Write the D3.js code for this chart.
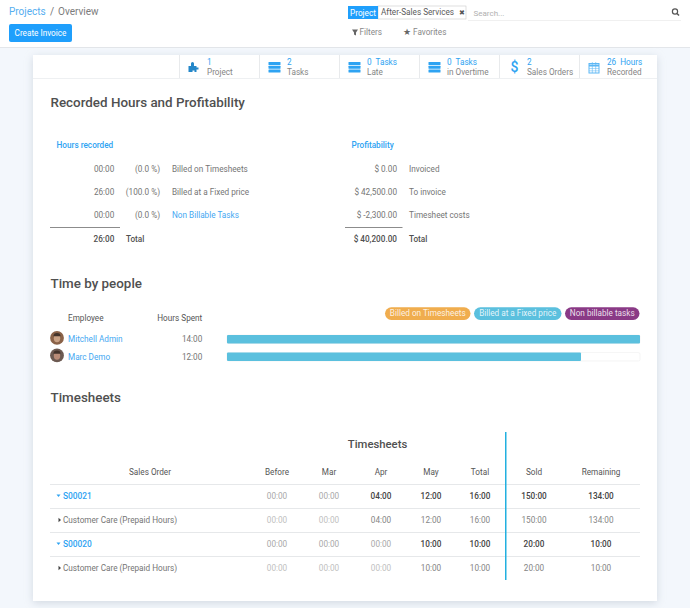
<!DOCTYPE html>
<html>
<head>
<meta charset="utf-8">
<script src="https://cdnjs.cloudflare.com/ajax/libs/d3/7.8.5/d3.min.js"></script>
<style>
html, body { margin: 0; padding: 0; background: #f3f7fc; }
svg { display: block; }
text { font-family: Roboto, "Open Sans", sans-serif; }
</style>
</head>
<body>
<svg id="page" width="690" height="608"></svg>
<script>
'use strict';

var stats = ["1", "2", "0  Tasks", "0  Tasks", "2", "26  Hours"];
var statLabels = ["Project", "Tasks", "Late", "in Overtime", "Sales Orders", "Recorded"];
var statIcons = ["puzzle", "tasks", "tasks", "tasks", "dollar", "calendar"];

var hourValues = ["00:00", "26:00", "00:00"];
var hourShares = ["(0.0 %)", "(100.0 %)", "(0.0 %)"];
var hourLabels = ["Billed on Timesheets", "Billed at a Fixed price", "Non Billable Tasks"];
var profitValues = ["$ 0.00", "$ 42,500.00", "$ -2,300.00"];
var profitLabels = ["Invoiced", "To invoice", "Timesheet costs"];

var employees = ["Mitchell Admin", "Marc Demo"];
var employeeHours = [14, 12];
var employeeHourLabels = ["14:00", "12:00"];
var legendLabels = ["Billed on Timesheets", "Billed at a Fixed price", "Non billable tasks"];
var legendColors = ["#f0ad4e", "#5bc0de", "#8a3a86"];

var columns = ["Before", "Mar", "Apr", "May", "Total", "Sold", "Remaining"];
var orders = ["S00021", "Customer Care (Prepaid Hours)", "S00020", "Customer Care (Prepaid Hours)"];
var orderHours = [
    ["00:00", "00:00", "04:00", "12:00", "16:00", "150:00", "134:00"],
    ["00:00", "00:00", "04:00", "12:00", "16:00", "150:00", "134:00"],
    ["00:00", "00:00", "00:00", "10:00", "10:00", "20:00", "10:00"],
    ["00:00", "00:00", "00:00", "10:00", "10:00", "20:00", "10:00"]
];

var BLUE = "#2ea3f2", DARK = "#505050", GREY = "#757575", FAINT = "#b4b4b4", LINE = "#e6e8ea";

var svg = d3.select("#page");

var label = function (parent, x, y, str, opts) {
    opts = opts || {};
    return parent.append("text")
        .attr("x", x)
        .attr("y", y)
        .attr("dy", "0.35em")
        .attr("text-anchor", opts.anchor || "start")
        .attr("font-size", opts.size || 8.2)
        .attr("font-weight", opts.weight || 400)
        .attr("fill", opts.color || GREY)
        .attr("xml:space", "preserve")
        .text(str);
};

var rule = function (x1, y1, x2, y2, color, width) {
    svg.append("line")
        .attr("x1", x1).attr("y1", y1).attr("x2", x2).attr("y2", y2)
        .attr("stroke", color).attr("stroke-width", width || 1);
};

// Control panel
svg.append("rect").attr("width", 690).attr("height", 47).attr("fill", "#fff");
rule(0, 47.5, 690, 47.5, "#e3e6ea");
label(svg, 9, 11.5, "Projects", {size: 10, color: "#55aef0"});
label(svg, 50, 11.5, "/", {size: 10, color: GREY});
label(svg, 58, 11.5, "Overview", {size: 10, color: "#7c7c7c"});
svg.append("rect").attr("x", 9).attr("y", 24).attr("width", 63).attr("height", 18).attr("rx", 2).attr("fill", "#1f9ffc");
label(svg, 40.5, 33, "Create Invoice", {size: 8.2, color: "#fff", anchor: "middle"});

svg.append("rect").attr("x", 378).attr("y", 6).attr("width", 88).attr("height", 13).attr("fill", "#fff").attr("stroke", "#c9c9c9").attr("stroke-width", 0.6);
svg.append("rect").attr("x", 348).attr("y", 6).attr("width", 30).attr("height", 13).attr("fill", "#1f9ffc");
label(svg, 363, 12.7, "Project", {size: 8.2, color: "#fff", anchor: "middle"});
label(svg, 381, 12.3, "After-Sales Services", {size: 8.2, color: "#5a5a5a"});
label(svg, 458.5, 12.7, "\u2716", {size: 7, color: "#555"});
label(svg, 473.5, 13, "Search...", {size: 8, color: "#b0b0b0"});
rule(468, 20.5, 681, 20.5, "#f0f0f0");
svg.append("circle").attr("cx", 675).attr("cy", 11.5).attr("r", 2.6).attr("fill", "none").attr("stroke", "#555").attr("stroke-width", 1.2);
rule(677, 13.5, 679, 15.5, "#555", 1.4);
svg.append("path").attr("d", d3.line()([[352, 29.5], [358, 29.5], [356, 32.5], [356, 35.5], [354, 34.5], [354, 32.5]])).attr("fill", "#666");
label(svg, 359.5, 32.5, "Filters", {size: 8.2, color: "#888"});
label(svg, 403, 32.5, "\u2605", {size: 8.5, color: "#666"});
label(svg, 413, 32.5, "Favorites", {size: 8.2, color: "#888"});

// Card
svg.append("defs").append("filter").attr("id", "shadow")
    .attr("x", "-5%").attr("y", "-5%").attr("width", "110%").attr("height", "110%")
    .append("feDropShadow").attr("dx", 0).attr("dy", 2).attr("stdDeviation", 4).attr("flood-color", "#a9b4c0").attr("flood-opacity", 0.45);
svg.append("rect").attr("x", 33).attr("y", 55).attr("width", 624).attr("height", 546).attr("fill", "#fff").attr("filter", "url(#shadow)");

// Stat buttons
var statX = d3.scaleBand().domain(d3.range(stats.length)).range([179.5, 659.5]);
rule(33, 78.5, 657, 78.5, "#eef0f2");
stats.forEach(function (s, i) {
    var x = statX(i), g = svg.append("g").attr("transform", "translate(" + x + ",0)");
    rule(x, 55, x, 78, "#e8eaec");
    label(g, 27.5, 62, s, {size: 8.2, color: BLUE});
    label(g, 27.5, 72, statLabels[i], {size: 8.2, color: "#858585"});
    if (statIcons[i] === "tasks") {
        [62, 65.8, 69.6].forEach(function (y) {
            g.append("rect").attr("x", 9).attr("y", y).attr("width", 12).attr("height", 2.9).attr("rx", 0.5).attr("fill", BLUE);
        });
    } else if (statIcons[i] === "puzzle") {
        g.append("path").attr("d", "M9 72v-6h2.5v-2.5a1.5 1.5 0 0 1 3 0V66h2.5v1.5h2v2h-2V72h-2v-1.5h-2V72z").attr("fill", "#2487c9");
    } else if (statIcons[i] === "dollar") {
        label(g, 15, 67, "$", {size: 14, color: BLUE, weight: 500, anchor: "middle"});
    } else {
        g.append("rect").attr("x", 9.5).attr("y", 63.5).attr("width", 10).attr("height", 9.5).attr("fill", "none").attr("stroke", "#5cb7f5");
        rule(x + 9.5, 65.5, x + 19.5, 65.5, "#5cb7f5", 2);
        [12.8, 16.2].forEach(function (v) { rule(x + v, 62, x + v, 73, "#5cb7f5", 0.6); });
        [68.5, 70.8].forEach(function (h) { rule(x + 9.5, h, x + 19.5, h, "#5cb7f5", 0.5); });
    }
});

// Section titles
label(svg, 50.5, 102, "Recorded Hours and Profitability", {size: 13.4, weight: 500, color: DARK});
label(svg, 50.5, 283.5, "Time by people", {size: 13.4, weight: 500, color: DARK});
label(svg, 50.5, 397, "Timesheets", {size: 13.4, weight: 500, color: DARK});

// Summary tables
var summaryY = d3.scalePoint().domain(d3.range(3)).range([169, 215.5]);
label(svg, 56.5, 145.3, "Hours recorded", {size: 8.2, weight: 500, color: BLUE});
label(svg, 351.5, 145.3, "Profitability", {size: 8.2, weight: 500, color: BLUE});
hourValues.forEach(function (v, i) {
    var y = summaryY(i);
    label(svg, 114.3, y, v, {anchor: "end"});
    label(svg, 160, y, hourShares[i], {anchor: "end"});
    label(svg, 172, y, hourLabels[i], {color: i === 2 ? "#45a8f2" : GREY});
    label(svg, 397, y, profitValues[i], {anchor: "end"});
    label(svg, 409, y, profitLabels[i]);
});
rule(50, 227.5, 120, 227.5, "#8c8c8c");
rule(345, 227.5, 402.5, 227.5, "#8c8c8c");
label(svg, 114.3, 239, "26:00", {anchor: "end", weight: 500, color: DARK});
label(svg, 126, 239, "Total", {weight: 500, color: DARK});
label(svg, 397, 239, "$ 40,200.00", {anchor: "end", weight: 500, color: DARK});
label(svg, 409, 239, "Total", {weight: 500, color: DARK});

// Time by people
var barX = d3.scaleLinear().domain([0, d3.max(employeeHours)]).range([227, 640]);
var barY = d3.scaleBand().domain(employees).range([330.5, 365.5]).paddingInner(0.52).paddingOuter(0.26);
label(svg, 68, 318, "Employee", {color: "#555"});
label(svg, 202.3, 318, "Hours Spent", {anchor: "end", color: "#555"});

var pillBounds = [[385, 470.5], [474, 561.5], [565, 639.5]];
legendLabels.forEach(function (t, i) {
    var b = pillBounds[i];
    svg.append("rect").attr("x", b[0]).attr("y", 307.3).attr("width", b[1] - b[0]).attr("height", 12.6).attr("rx", 6.3).attr("fill", legendColors[i]);
    label(svg, (b[0] + b[1]) / 2, 313.5, t, {size: 8.2, color: "#fff", anchor: "middle"}).attr("fill-opacity", 0.85);
});

svg.selectAll("rect.track").data(employees).enter().append("rect")
    .attr("class", "track")
    .attr("x", barX(0)).attr("y", function (d) { return barY(d); })
    .attr("width", barX.range()[1] - barX(0)).attr("height", barY.bandwidth())
    .attr("rx", 1.5).attr("fill", "#fff").attr("stroke", "#eeeeee").attr("stroke-width", 0.6);
svg.selectAll("rect.bar").data(employees).enter().append("rect")
    .attr("class", "bar")
    .attr("x", barX(0)).attr("y", function (d) { return barY(d); })
    .attr("width", function (d, i) { return barX(employeeHours[i]) - barX(0); })
    .attr("height", barY.bandwidth())
    .attr("rx", 1).attr("fill", "#5bc0de");

employees.forEach(function (name, i) {
    var y = barY(name) + barY.bandwidth() / 2;
    var av = svg.append("g").attr("transform", "translate(57," + (y - 1.3) + ")");
    av.append("circle").attr("r", 6.9).attr("fill", i === 0 ? "#8a6248" : "#6c5a52");
    av.append("ellipse").attr("cy", 0.4).attr("rx", 3.2).attr("ry", 4).attr("fill", i === 0 ? "#c9a184" : "#b98c78");
    av.append("path").attr("d", "M-3.6 -1.6a3.6 3.4 0 0 1 7.2 0z").attr("fill", "#43332b");
    label(svg, 68, y, name, {color: "#45a8f2"});
    label(svg, 202.3, y, employeeHourLabels[i], {anchor: "end"});
});

// Timesheet table
var colX = d3.scaleOrdinal().domain(columns).range([277, 329, 381, 431, 480, 534, 601]);
var rowY = d3.scalePoint().domain(d3.range(orders.length)).range([496, 568]);
label(svg, 377.5, 444, "Timesheets", {size: 11.3, weight: 500, color: DARK, anchor: "middle"});
label(svg, 150, 472.3, "Sales Order", {color: "#555", anchor: "middle"});
columns.forEach(function (c) {
    label(svg, colX(c), 472.3, c, {color: "#555", anchor: "middle"});
});
rule(50, 484.5, 640, 484.5, LINE);
orders.forEach(function (o, i) {
    var y = rowY(i), isOrder = i % 2 === 0;
    if (i < orders.length - 1) rule(50, y + 12.5, 640, y + 12.5, LINE);
    if (isOrder) {
        svg.append("path").attr("d", d3.line()([[56.5, y - 1.5], [60.5, y - 1.5], [58.5, y + 1]])).attr("fill", BLUE);
        label(svg, 63, y, o, {color: BLUE, weight: 500, size: 8.4});
    } else {
        svg.append("path").attr("d", d3.line()([[58.5, y - 2.3], [61, y], [58.5, y + 2.3]])).attr("fill", "#444");
        label(svg, 63, y, o);
    }
    orderHours[i].forEach(function (v, j) {
        var zero = v === "00:00";
        var color = isOrder ? (zero ? "#a8a8a8" : "#454545") : (zero ? "#c0c0c0" : "#858585");
        label(svg, colX(columns[j]), y, v, {anchor: "middle", color: color, weight: isOrder && !zero ? 500 : 400});
    });
});
svg.append("rect").attr("x", 505).attr("y", 432).attr("width", 1.5).attr("height", 148).attr("fill", "#22b0e0");
</script>
</body>
</html>
